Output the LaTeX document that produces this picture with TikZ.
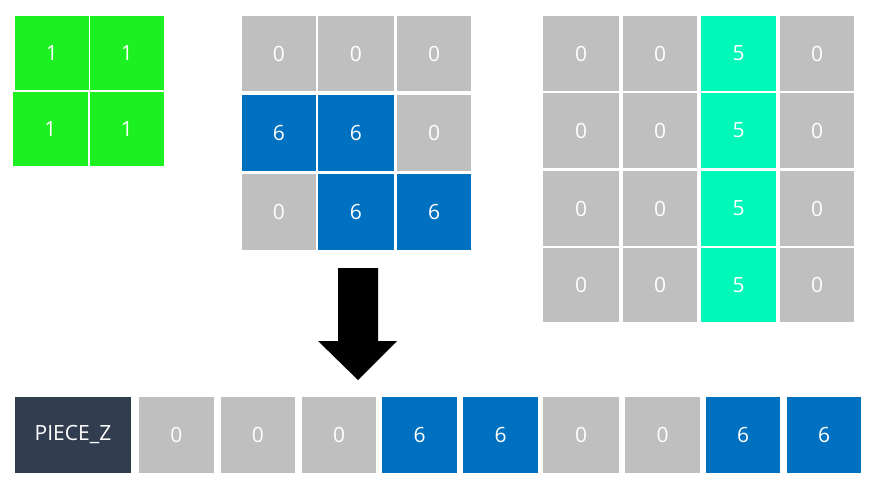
\documentclass[tikz,border=0pt]{standalone}
\usepackage{fontspec}
\setmainfont{Open Sans}
\definecolor{cgreen}{RGB}{28,240,32}
\definecolor{cgray}{RGB}{191,191,191}
\definecolor{cblue}{RGB}{0,112,192}
\definecolor{cteal}{RGB}{0,248,184}
\definecolor{cnavy}{RGB}{50,62,80}
\tikzset{
  cell/.style={inner sep=0pt, outer sep=0pt, text=white, font=\fontsize{21}{21}\selectfont},
  gcell/.style={cell, fill=cgreen},
  zcell/.style={cell, fill=cgray},
  bcell/.style={cell, fill=cblue},
  tcell/.style={cell, fill=cteal},
  ncell/.style={cell, fill=cnavy},
  blockarrow/.style={fill=black, draw=none}
}
\newcommand\mkcell[7]{%
  \pgfmathsetmacro\cw{#4-#2}\pgfmathsetmacro\ch{#5-#3}%
  \node[#6, minimum width=\cw pt, minimum height=\ch pt] (#1) at ({(#2+#4)/2},{(#3+#5)/2}) {#7};}
\begin{document}
\begin{tikzpicture}[x=1pt,y=-1pt]
\useasboundingbox[fill=white] (0,0) rectangle (873,492);
% green 2x2
\mkcell{g11}{15}{16}{89}{90}{gcell}{1}
\mkcell{g12}{90}{16}{164}{90}{gcell}{1}
\mkcell{g21}{13}{92}{88}{166}{gcell}{1}
\mkcell{g22}{90}{92}{164}{166}{gcell}{1}
% middle 3x3
\mkcell{m11}{242}{16}{316}{91}{zcell}{0}
\mkcell{m12}{318}{16}{394}{91}{zcell}{0}
\mkcell{m13}{397}{16}{471}{91}{zcell}{0}
\mkcell{m21}{242}{95}{316}{171}{bcell}{6}
\mkcell{m22}{318}{95}{394}{171}{bcell}{6}
\mkcell{m23}{397}{95}{471}{171}{zcell}{0}
\mkcell{m31}{242}{174}{316}{250}{zcell}{0}
\mkcell{m32}{318}{174}{394}{250}{bcell}{6}
\mkcell{m33}{397}{174}{471}{250}{bcell}{6}
% right 4x4
\mkcell{r11}{543}{16}{619}{91}{zcell}{0}
\mkcell{r12}{623}{16}{697}{91}{zcell}{0}
\mkcell{r13}{701}{16}{776}{91}{tcell}{5}
\mkcell{r14}{780}{16}{854}{91}{zcell}{0}
\mkcell{r21}{543}{93}{619}{168}{zcell}{0}
\mkcell{r22}{623}{93}{697}{168}{zcell}{0}
\mkcell{r23}{701}{93}{776}{168}{tcell}{5}
\mkcell{r24}{780}{93}{854}{168}{zcell}{0}
\mkcell{r31}{543}{171}{619}{246}{zcell}{0}
\mkcell{r32}{623}{171}{697}{246}{zcell}{0}
\mkcell{r33}{701}{171}{776}{246}{tcell}{5}
\mkcell{r34}{780}{171}{854}{246}{zcell}{0}
\mkcell{r41}{543}{248}{619}{322}{zcell}{0}
\mkcell{r42}{623}{248}{697}{322}{zcell}{0}
\mkcell{r43}{701}{248}{776}{322}{tcell}{5}
\mkcell{r44}{780}{248}{854}{322}{zcell}{0}
% bottom row
\mkcell{p0}{15}{397}{131}{473}{ncell}{PIECE\_Z}
\mkcell{p1}{139}{397}{214}{473}{zcell}{0}
\mkcell{p2}{221}{397}{295}{473}{zcell}{0}
\mkcell{p3}{302}{397}{376}{473}{zcell}{0}
\mkcell{p4}{382}{397}{457}{473}{bcell}{6}
\mkcell{p5}{463}{397}{538}{473}{bcell}{6}
\mkcell{p6}{543}{397}{619}{473}{zcell}{0}
\mkcell{p7}{625}{397}{700}{473}{zcell}{0}
\mkcell{p8}{706}{397}{780}{473}{bcell}{6}
\mkcell{p9}{787}{397}{861}{473}{bcell}{6}
% block arrow
\fill[blockarrow] (338,268) -- (378,268) -- (378,341) -- (397,341) -- (358,380) -- (318,341) -- (338,341) -- cycle;
\end{tikzpicture}
\end{document}
